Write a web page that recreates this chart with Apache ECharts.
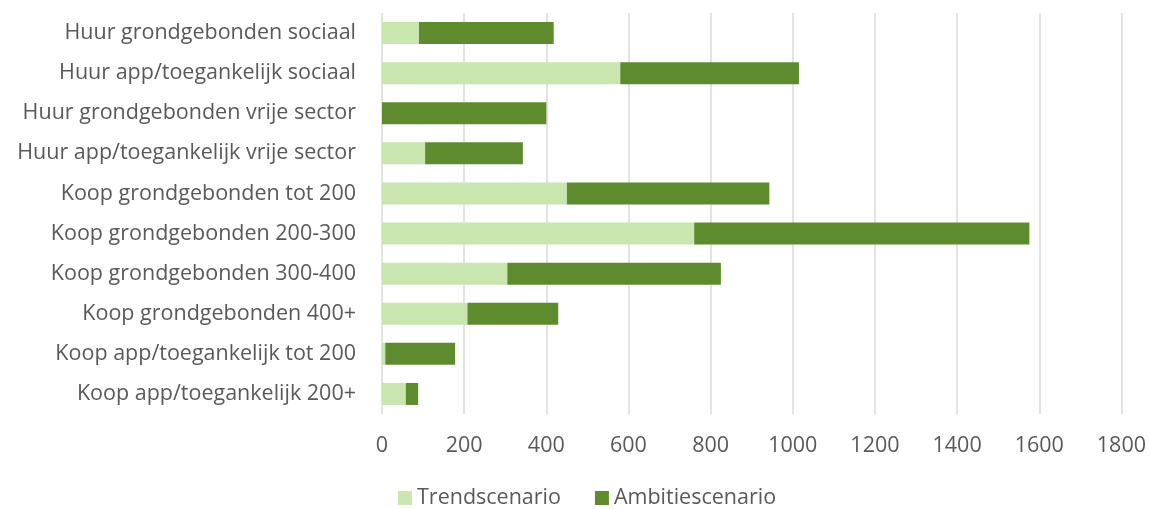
<!DOCTYPE html>
<html>
<head>
<meta charset="utf-8">
<script src="https://cdn.jsdelivr.net/npm/echarts@6/dist/echarts.min.js"></script>
<style>html,body{margin:0;padding:0;background:#fff;}#c{width:1149px;height:509px;}</style>
</head>
<body>
<div id="c"></div>
<script>
const categories = [
  "Huur grondgebonden sociaal",
  "Huur app/toegankelijk sociaal",
  "Huur grondgebonden vrije sector",
  "Huur app/toegankelijk vrije sector",
  "Koop grondgebonden tot 200",
  "Koop grondgebonden 200-300",
  "Koop grondgebonden 300-400",
  "Koop grondgebonden 400+",
  "Koop app/toegankelijk tot 200",
  "Koop app/toegankelijk 200+"
];
const trend = [90, 580, 0, 105, 450, 760, 305, 208, 8, 58];
const ambitie = [328, 435, 400, 238, 493, 816, 520, 221, 170, 30];
const xTicks = { min: 0, max: 1800, interval: 200 };

const chart = echarts.init(document.getElementById('c'));
const font = "'Open Sans', 'Noto Sans', sans-serif";
const fs = 21.5;
chart.setOption({
  animation: false,
  textStyle: { fontFamily: font },
  grid: { left: 382, right: 27, top: 13, bottom: 95, containLabel: false },
  legend: {
    data: ['Trendscenario', 'Ambitiescenario'],
    left: 398, top: 487, padding: 0,
    itemWidth: 14, itemHeight: 14, itemGap: 34,
    icon: 'rect',
    textStyle: { color: '#595959', fontSize: fs, fontFamily: font }
  },
  xAxis: {
    type: 'value', min: xTicks.min, max: xTicks.max, interval: xTicks.interval,
    axisLine: { show: false }, axisTick: { show: false },
    splitLine: { show: true, lineStyle: { color: '#D9D9D9', width: 1.5 } },
    axisLabel: { color: '#595959', fontSize: fs, margin: 21, fontFamily: font,
      formatter: function (v) { return String(v); } }
  },
  yAxis: {
    type: 'category', data: categories, inverse: true,
    axisLine: { show: false }, axisTick: { show: false },
    axisLabel: { color: '#595959', fontSize: fs, margin: 26, fontFamily: font }
  },
  series: [
    { name: 'Trendscenario', type: 'bar', stack: 's', data: trend, barWidth: 22,
      itemStyle: { color: '#C8E6AE' } },
    { name: 'Ambitiescenario', type: 'bar', stack: 's', data: ambitie, barWidth: 22,
      itemStyle: { color: '#5F8B2F' } }
  ]
});
</script>
</body>
</html>
